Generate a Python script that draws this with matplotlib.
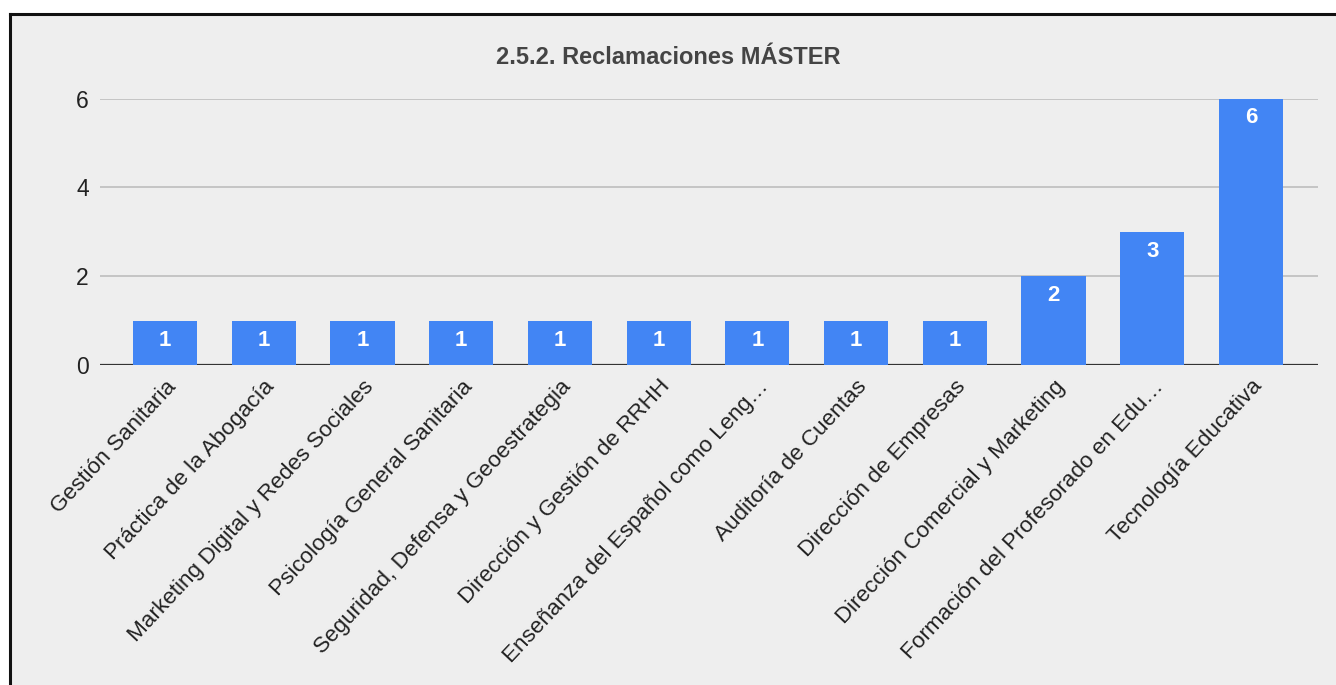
import matplotlib.pyplot as plt
from matplotlib.patches import Rectangle

# Reclamaciones por máster
categorias = [
    'Gestión Sanitaria',
    'Práctica de la Abogacía',
    'Marketing Digital y Redes Sociales',
    'Psicología General Sanitaria',
    'Seguridad, Defensa y Geoestrategia',
    'Dirección y Gestión de RRHH',
    'Enseñanza del Español como Leng…',
    'Auditoría de Cuentas',
    'Dirección de Empresas',
    'Dirección Comercial y Marketing',
    'Formación del Profesorado en Edu…',
    'Tecnología Educativa',
]
valores = [1, 1, 1, 1, 1, 1, 1, 1, 1, 2, 3, 6]
yticks = [0, 2, 4, 6]

plt.rcParams['font.family'] = ['Liberation Sans', 'DejaVu Sans']

fig = plt.figure(figsize=(13.36, 6.85), dpi=100)
fig.patch.set_facecolor('white')

# marco gris con borde negro arriba e izquierda
W, H = 1336, 685
fig.patches.append(Rectangle((10 / W, 0), 1, 1 - 14 / H, transform=fig.transFigure,
                             facecolor='#eeeeee', edgecolor='none', zorder=-10))
fig.lines.append(plt.Line2D([10 / W, 1], [1 - 14 / H, 1 - 14 / H], transform=fig.transFigure,
                            color='#111111', lw=2.2))
fig.lines.append(plt.Line2D([10 / W, 10 / W], [0, 1 - 14 / H], transform=fig.transFigure,
                            color='#111111', lw=2.2))

ax = fig.add_axes([100 / W, 1 - 365 / H, (1318 - 100) / W, (365 - 98.5) / H])
ax.set_facecolor('none')

x = list(range(len(categorias)))
bars = ax.bar(x, valores, width=0.65, color='#4285f4', zorder=3)

for xi, v in zip(x, valores):
    ax.annotate(str(v), (xi, v), xytext=(0, -14), textcoords='offset points',
                ha='center', va='center', color='white', fontsize=16, fontweight='bold', zorder=4)

ax.set_xlim(-0.66, 11.68)
ax.set_ylim(0, 6)
ax.set_yticks(yticks)
ax.set_yticklabels([str(t) for t in yticks], fontsize=16.5, color='#222222')
for t in yticks[1:]:
    ax.axhline(t, color='#c4c4c4', lw=1.4, zorder=1)
ax.axhline(0, color='#333333', lw=1.6, zorder=2)

ax.set_xticks(x)
ax.set_xticklabels(categorias, rotation=47, ha='right', va='top',
                   rotation_mode='anchor', fontsize=16.2, color='#222222')
ax.tick_params(axis='both', length=0)
ax.tick_params(axis='x', pad=8)
ax.tick_params(axis='y', pad=8)
for s in ax.spines.values():
    s.set_visible(False)

fig.text(668 / W, 1 - 57 / H, '2.5.2. Reclamaciones MÁSTER', ha='center', va='center',
         fontsize=17, fontweight='bold', color='#444444')

fig.savefig('out.png', dpi=100)
